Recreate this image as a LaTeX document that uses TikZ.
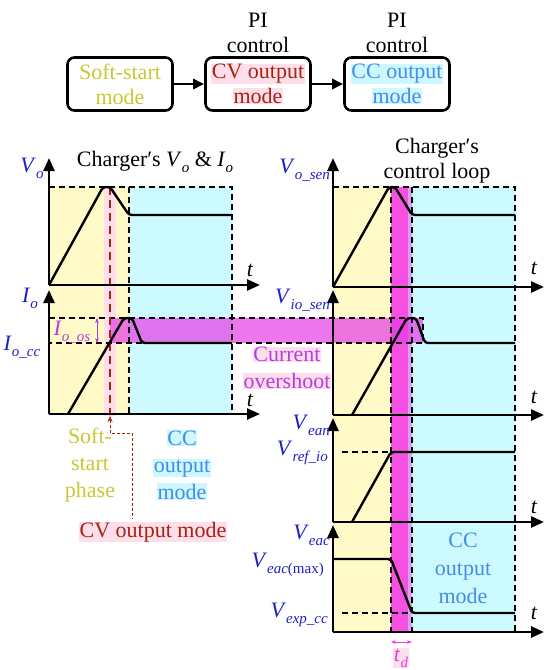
\documentclass[tikz,border=0pt]{standalone}
\usepackage{fontspec}
\setmainfont{Liberation Serif}
\usetikzlibrary{arrows.meta}
\definecolor{ylw}{RGB}{255,250,200}
\definecolor{cyn}{RGB}{205,250,255}
\definecolor{mag}{RGB}{230,60,230}
\definecolor{magv}{RGB}{245,80,225}
\definecolor{lav}{RGB}{215,160,240}
\definecolor{lblue}{RGB}{30,30,200}
\definecolor{ccblue}{RGB}{70,140,230}
\definecolor{cvred}{RGB}{165,35,15}
\definecolor{ssyel}{RGB}{200,200,50}
\definecolor{pinkhl}{RGB}{255,222,236}
\definecolor{cyanhl}{RGB}{205,248,255}
\definecolor{viol}{RGB}{180,60,230}
\newcommand{\hlt}[2]{{\setlength{\fboxsep}{0.5pt}\colorbox{#1}{#2}}}
\newcommand{\sbs}[2]{\textit{#1}\raisebox{-0.28em}{\fontsize{15}{15}\selectfont\itshape #2}}
\begin{document}
\begin{tikzpicture}[x=1pt,y=-1pt,font=\fontsize{22}{25}\selectfont,
  axis/.style={line width=2.6pt,-{Triangle[length=13pt,width=11pt]}},
  wave/.style={line width=2.4pt,line join=round,rounded corners=3pt},
  dsh/.style={line width=1.3pt,dash pattern=on 6pt off 4pt},
  modebox/.style={draw,line width=2.6pt,rounded corners=7pt,minimum width=105pt,minimum height=53pt,align=center,inner sep=1pt},
  flow/.style={line width=2.6pt,-{Triangle[length=11pt,width=10pt]}},
  lbl/.style={text=lblue,inner sep=1pt},
  tl/.style={font=\fontsize{22}{25}\selectfont\itshape,inner sep=0pt}]
\useasboundingbox (0,0) rectangle (550,670);
% ---------- mode flow ----------
\node[modebox,text=ssyel] (b1) at (120,84) {Soft-start\\mode};
\node[modebox,text=cvred] (b2) at (258,84) {\hlt{pinkhl}{CV output}\\\hlt{pinkhl}{mode}};
\node[modebox,text=ccblue] (b3) at (397,84) {\hlt{cyanhl}{CC output}\\\hlt{cyanhl}{mode}};
\node[align=center] (pi1) at (258,33) {PI\\control};
\node[align=center] (pi2) at (397,33) {PI\\control};
\draw[flow] (b1) -- (b2);
\draw[flow] (b2) -- (b3);
% ---------- backgrounds ----------
\fill[ylw] (49,187) rectangle (129,414);
\fill[cyn] (129,187) rectangle (232,414);
\fill[pinkhl] (104,187) rectangle (116,416);
\fill[ylw] (333,187) rectangle (391,632);
\fill[cyn] (408,187) rectangle (515,632);
\fill[magv] (391,187) rectangle (408,632);
\fill[lav] (408,187) rectangle (412,632);
\fill[mag,opacity=0.7] (110,318) rectangle (423,343);
% ---------- dashed guides ----------
\draw[dsh] (49,187) -- (232,187) -- (232,414);
\draw[dsh] (129,187) -- (129,414);
\draw[dsh] (49,318) -- (423,318) -- (423,343) -- (49,343);
\draw[dsh] (333,187) -- (515,187) -- (515,632);
\draw[dsh] (391,187) -- (391,632);
\draw[dsh] (412,187) -- (412,632);
\draw[dsh] (342,452) -- (391,452);
\draw[dsh] (342,613) -- (412,613);
\draw[cvred,line width=2.2pt,dash pattern=on 8pt off 5pt] (110,187) -- (110,414);
% ---------- left axes and waves ----------
\draw[axis] (49,285) -- (49,158);
\draw[axis] (49,285) -- (260,285);
\draw[axis] (49,414) -- (49,290);
\draw[axis] (49,414) -- (260,414);
\draw[wave] (49,285) -- (103,187) -- (110,187) -- (129,215) -- (232,215);
\draw[wave] (68,414) -- (124,318) -- (132,318) -- (142,343) -- (232,343);
\draw[viol,line width=1pt,{Stealth[length=5pt]}-{Stealth[length=5pt]}] (97,318) -- (97,343);
% ---------- right axes and waves ----------
\draw[axis] (333,287) -- (333,158);
\draw[axis] (333,287) -- (544,287);
\draw[axis] (333,415) -- (333,290);
\draw[axis] (333,415) -- (544,415);
\draw[axis] (333,522) -- (333,418);
\draw[axis] (333,522) -- (544,522);
\draw[axis] (333,632) -- (333,525);
\draw[axis] (333,632) -- (544,632);
\draw[wave] (333,287) -- (389,187) -- (395,187) -- (412,215) -- (515,215);
\draw[wave] (352,415) -- (407,318) -- (416,318) -- (425,343) -- (515,343);
\draw[wave] (352,522) -- (391,452) -- (515,452);
\draw[wave] (333,559) -- (391,559) -- (412,613) -- (515,613);
\draw[mag,line width=1pt,{Stealth[length=5pt]}-{Stealth[length=5pt]}] (391,642) -- (412,642);
% ---------- titles ----------
\node (t1) at (155,162) {Charger′s \textit{V}\raisebox{-0.28em}{\fontsize{15}{15}\selectfont\itshape o} \& \textit{I}\raisebox{-0.28em}{\fontsize{15}{15}\selectfont\itshape o}};
\node[align=center] (t2) at (437,161) {Charger′s\\control loop};
% ---------- axis labels ----------
\node[lbl] (lvo) at (32,168) {\sbs{V}{o}};
\node[lbl] (lio) at (30,298) {\sbs{I}{o}};
\node[lbl] (liocc) at (22,347) {\sbs{I}{o\_cc}};
\node[text=viol,inner sep=1pt] (lioos) at (72,332) {\sbs{I}{o\_os}};
\node[lbl,anchor=east] (lvos) at (331,170) {\sbs{V}{o\_sen}};
\node[lbl,anchor=east] (lvis) at (331,300) {\sbs{V}{io\_sen}};
\node[lbl,anchor=east] (lvean) at (331,425) {\sbs{V}{ean}};
\node[lbl,anchor=east] (lvref) at (329,453) {\sbs{V}{ref\_io}};
\node[lbl,anchor=east] (lveac) at (331,535) {\sbs{V}{eac}};
\node[lbl,anchor=east] (lveacm) at (325,565) {\textit{V}\raisebox{-0.28em}{\fontsize{15}{15}\selectfont\textit{eac}(max)}};
\node[lbl,anchor=east] (lvexp) at (329,615) {\sbs{V}{exp\_cc}};
\node[tl] (ta) at (250,270) {t};
\node[tl] (tb) at (250,400) {t};
\node[tl] (tc) at (534,268) {t};
\node[tl] (td) at (534,397) {t};
\node[tl] (te) at (534,507) {t};
\node[tl] (tf) at (534,613) {t};
\node[text=mag,inner sep=1pt] (tdl) at (401,658) {\hlt{pinkhl}{\sbs{t}{d}}};
% ---------- phase labels ----------
\node[text=ssyel,align=center,font=\fontsize{22}{27}\selectfont] (ssp) at (90,465) {Soft-\\start\\phase};
\node[text=ccblue,align=center,font=\fontsize{22}{27}\selectfont] (ccl) at (182,465) {\hlt{cyanhl}{CC}\\\hlt{cyanhl}{output}\\\hlt{cyanhl}{mode}};
\node[text=cvred] (cvl) at (153,532) {\hlt{pinkhl}{CV output mode}};
\node[text=viol,align=center,font=\fontsize{22}{27}\selectfont] (cur) at (287,368) {\hlt{pinkhl}{Current}\\\hlt{pinkhl}{overshoot}};
\node[text=ccblue,align=center,font=\fontsize{22}{28}\selectfont] (ccr) at (463,568) {CC\\output\\mode};
% leader
\coordinate (cvtip) at (110,416);
\coordinate (lk) at (132,433);
\draw[cvred,line width=0.8pt,dash pattern=on 3pt off 2pt,{Stealth[length=6pt,width=5pt]}-] (cvtip) -- (cvtip |- lk) -- (lk) -- (lk |- cvl.north);
\end{tikzpicture}
\end{document}
